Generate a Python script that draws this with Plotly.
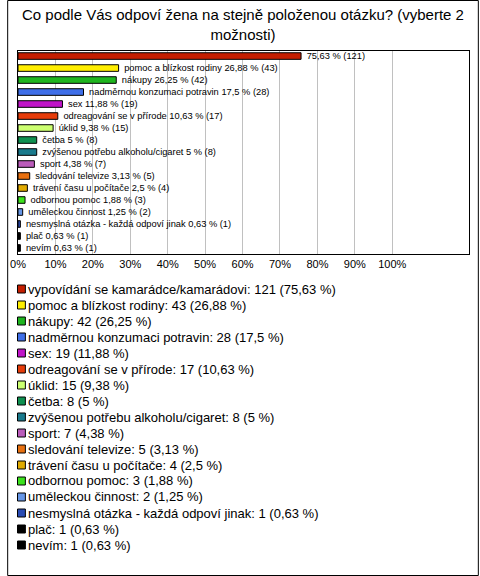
import plotly.graph_objects as go

categories = [
    "vypovídání se kamarádce/kamarádovi",
    "pomoc a blízkost rodiny",
    "nákupy",
    "nadměrnou konzumaci potravin",
    "sex",
    "odreagování se v přírode",
    "úklid",
    "četba",
    "zvýšenou potřebu alkoholu/cigaret",
    "sport",
    "sledování televize",
    "trávení času u počítače",
    "odbornou pomoc",
    "uměleckou činnost",
    "nesmyslná otázka - každá odpoví jinak",
    "plač",
    "nevím",
]
counts = [121, 43, 42, 28, 19, 17, 15, 8, 8, 7, 5, 4, 3, 2, 1, 1, 1]
percents = [75.63, 26.88, 26.25, 17.5, 11.88, 10.63, 9.38, 5, 5, 4.38, 3.13, 2.5, 1.88, 1.25, 0.63, 0.63, 0.63]
colors = [
    "#c41e00", "#ffee00", "#1fb51f", "#3f6fe8", "#c014c8", "#e63c0a",
    "#ccff70", "#0f9050", "#1a7a8c", "#bb5cbb", "#e87010", "#e0aa00",
    "#3ce21e", "#6696e6", "#2a4cb4", "#000000", "#000000",
]
tick_values = [0, 10, 20, 30, 40, 50, 60, 70, 80, 90, 100]
tick_labels = [f"{v}%" for v in tick_values]


def fmt(v):
    return f"{v:g}".replace(".", ",")


bar_text = []
for i, (c, n, p) in enumerate(zip(categories, counts, percents)):
    if i == 0:
        bar_text.append(f" {fmt(p)} % ({n})")
    else:
        bar_text.append(f" {c} {fmt(p)} % ({n})")

W, H = 480, 576
ml, mr, mt, mb = 11, 10, 51, 322
pw, ph = W - ml - mr, H - mt - mb

FONT = "Liberation Sans, Arial, sans-serif"

fig = go.Figure()
fig.add_trace(go.Bar(
    x=percents,
    y=categories,
    orientation="h",
    marker=dict(color=colors, line=dict(color="#000000", width=1)),
    width=0.55,
    text=bar_text,
    textposition="outside",
    constraintext="none",
    textfont=dict(size=9.3, color="#000000", family=FONT),
    cliponaxis=False,
    hoverinfo="skip",
))


def px_x(px):
    return (px - ml) / pw


def px_y(py):
    return (H - mb - py) / ph


shapes = []
annotations = []
# legend
for i, (c, n, p, col) in enumerate(zip(categories, counts, percents, colors)):
    yc = 289 + 16 * i
    shapes.append(dict(
        type="rect", xref="paper", yref="paper",
        x0=px_x(10.5), x1=px_x(18.5), y0=px_y(yc + 4), y1=px_y(yc - 4),
        fillcolor=col, line=dict(color="#000000", width=1),
    ))
    annotations.append(dict(
        xref="paper", yref="paper", x=px_x(19), y=px_y(yc),
        xanchor="left", yanchor="middle", showarrow=False,
        text=f"{c}: {n} ({fmt(p)} %)",
        font=dict(size=13, color="#000000", family=FONT),
    ))

# title
annotations.append(dict(
    xref="paper", yref="paper", x=px_x(240), y=px_y(25),
    xanchor="center", yanchor="middle", showarrow=False,
    text="Co podle Vás odpoví žena na stejně položenou otázku? (vyberte 2<br>možnosti)",
    font=dict(size=15, color="#000000", family=FONT),
))

# outer border
shapes.append(dict(
    type="rect", xref="paper", yref="paper",
    x0=px_x(0.5), x1=px_x(W - 0.5), y0=px_y(H - 0.5), y1=px_y(0.5),
    line=dict(color="#000000", width=1), fillcolor="rgba(0,0,0,0)",
))

fig.update_layout(
    width=W, height=H,
    margin=dict(l=ml, r=mr, t=mt, b=mb, pad=0),
    paper_bgcolor="#ffffff", plot_bgcolor="#ffffff",
    showlegend=False,
    font=dict(family=FONT, color="#000000"),
    xaxis=dict(
        range=[0, 120.5], tickvals=tick_values, ticktext=tick_labels,
        showgrid=True, gridcolor="#c0c0c0", gridwidth=1,
        zeroline=False, showline=True, linecolor="#000000", mirror=True,
        ticks="", tickfont=dict(size=11, color="#000000"), fixedrange=True,
    ),
    yaxis=dict(
        range=[16.5, -0.42], showticklabels=False, showgrid=False,
        zeroline=False, showline=True, linecolor="#000000", mirror=True,
        ticks="", fixedrange=True,
    ),
    shapes=shapes,
    annotations=annotations,
)

fig.write_html(
    "out.html",
    config={"displayModeBar": False},
    post_script="document.body.style.margin='0';document.body.style.overflow='hidden';",
)
